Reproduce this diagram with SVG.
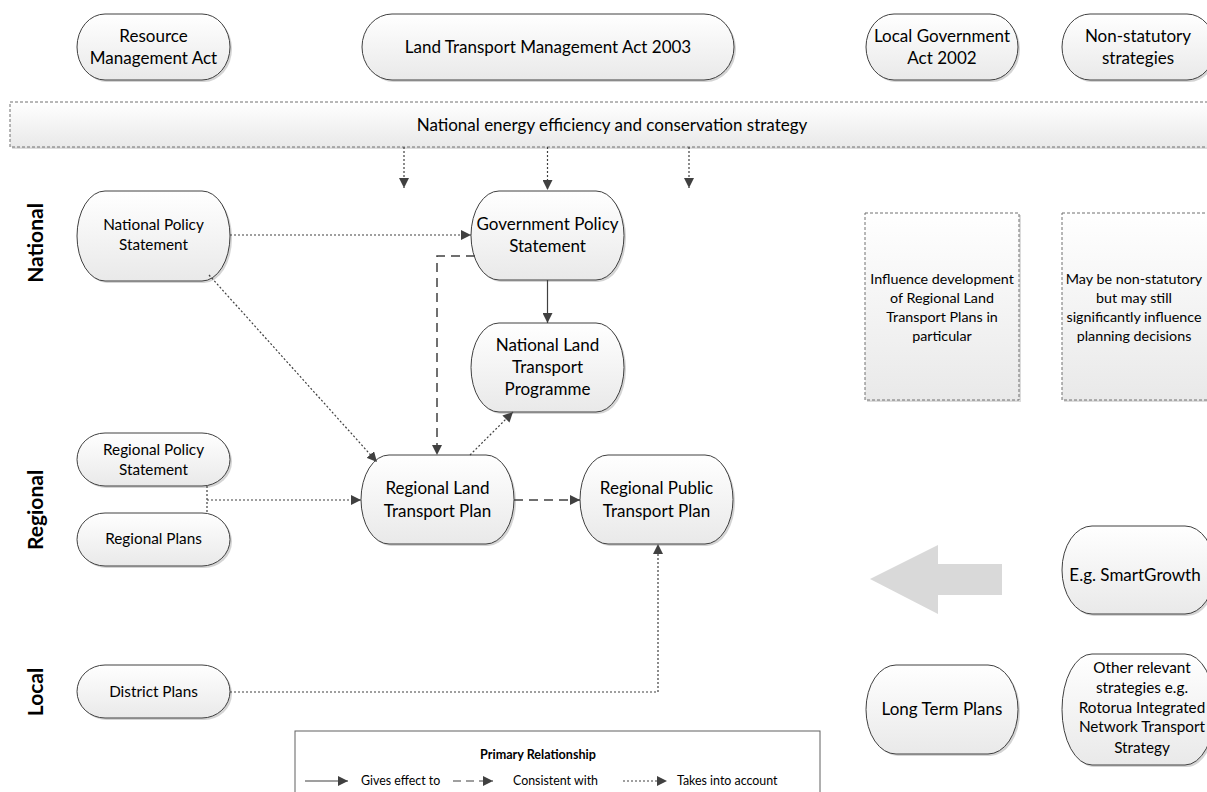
<svg xmlns="http://www.w3.org/2000/svg" width="1207" height="792" viewBox="0 0 1207 792">
<defs>
<linearGradient id="g" x1="0" y1="0" x2="0" y2="1"><stop offset="0" stop-color="#ffffff"/><stop offset="1" stop-color="#e9e9e9"/></linearGradient>
<marker id="ah" viewBox="0 0 10 10" refX="10" refY="5" markerWidth="10" markerHeight="10" markerUnits="userSpaceOnUse" orient="auto"><path d="M0,0 L10,5 L0,10 z" fill="#404040"/></marker>
<style>
text{font-family:Lato,"Liberation Sans",sans-serif;fill:#000;text-anchor:middle}
.n{fill:url(#g);stroke:#404040;stroke-width:1}
.sh{fill:#d4d4d4}
.t16{font-size:17px}
.t14{font-size:15.3px}
.tb{font-size:14.3px}
.side{font-size:21px;font-weight:bold}
.box{fill:url(#g);stroke:#707070;stroke-width:1;stroke-dasharray:3 2}
.c{fill:none;stroke:#404040;stroke-width:1.2}
.dot{stroke-dasharray:2 2}
.dash{stroke-dasharray:9 6;stroke-width:1.5}
.leg{font-size:12.4px;text-anchor:start}
</style>
</defs>
<rect width="1207" height="792" fill="#fff"/>

<g id="side-labels">
<text class="side" transform="translate(43,243) rotate(-90)">National</text>
<text class="side" transform="translate(43,510) rotate(-90)">Regional</text>
<text class="side" transform="translate(43,692) rotate(-90)">Local</text>
</g>

<g id="banner">
<rect x="12" y="104" width="1200" height="45" fill="#dcdcdc"/>
<rect class="box" x="10" y="102" width="1200" height="45"/>
<text class="t16" x="612" y="131">National energy efficiency and conservation strategy</text>
</g>

<g id="rma">
<rect class="sh" x="79" y="16" width="153" height="66" rx="28" ry="33"/>
<rect class="n" x="77" y="14" width="153" height="66" rx="28" ry="33"/>
<text class="t16" x="153.5" y="42">Resource</text>
<text class="t16" x="153.5" y="64">Management Act</text>
</g>
<g id="ltma">
<rect class="sh" x="364" y="16" width="372" height="66" rx="30" ry="33"/>
<rect class="n" x="362" y="14" width="372" height="66" rx="30" ry="33"/>
<text class="t16" x="548" y="53">Land Transport Management Act 2003</text>
</g>
<g id="lga">
<rect class="sh" x="868" y="16" width="152" height="66" rx="28" ry="33"/>
<rect class="n" x="866" y="14" width="152" height="66" rx="28" ry="33"/>
<text class="t16" x="942" y="42">Local Government</text>
<text class="t16" x="942" y="64">Act 2002</text>
</g>
<g id="nonstat">
<rect class="sh" x="1064" y="16" width="153" height="66" rx="28" ry="33"/>
<rect class="n" x="1062" y="14" width="153" height="66" rx="28" ry="33"/>
<text class="t16" x="1138" y="42">Non-statutory</text>
<text class="t16" x="1138" y="64">strategies</text>
</g>

<g id="nps">
<rect class="sh" x="79" y="193" width="153" height="90" rx="28" ry="45"/>
<rect class="n" x="77" y="191" width="153" height="90" rx="28" ry="45"/>
<text class="t14" x="153.5" y="230">National Policy</text>
<text class="t14" x="153.5" y="250">Statement</text>
</g>
<g id="gps">
<rect class="sh" x="473" y="193" width="153" height="89" rx="28" ry="44.5"/>
<rect class="n" x="471" y="191" width="153" height="89" rx="28" ry="44.5"/>
<text class="t16" x="547.5" y="230">Government Policy</text>
<text class="t16" x="547.5" y="252">Statement</text>
</g>
<g id="nltp">
<rect class="sh" x="473" y="325" width="153" height="89" rx="28" ry="44.5"/>
<rect class="n" x="471" y="323" width="153" height="89" rx="28" ry="44.5"/>
<text class="t16" x="547.5" y="351">National Land</text>
<text class="t16" x="547.5" y="373">Transport</text>
<text class="t16" x="547.5" y="395">Programme</text>
</g>
<g id="rps">
<rect class="sh" x="79" y="435" width="153" height="53" rx="28" ry="26.5"/>
<rect class="n" x="77" y="433" width="153" height="53" rx="28" ry="26.5"/>
<text class="t14" x="153.5" y="455">Regional Policy</text>
<text class="t14" x="153.5" y="475">Statement</text>
</g>
<g id="rp">
<rect class="sh" x="79" y="515" width="153" height="53" rx="28" ry="26.5"/>
<rect class="n" x="77" y="513" width="153" height="53" rx="28" ry="26.5"/>
<text class="t14" x="153.5" y="544">Regional Plans</text>
</g>
<g id="rltp">
<rect class="sh" x="363" y="457" width="153" height="89" rx="28" ry="44.5"/>
<rect class="n" x="361" y="455" width="153" height="89" rx="28" ry="44.5"/>
<text class="t16" x="437.5" y="494">Regional Land</text>
<text class="t16" x="437.5" y="517">Transport Plan</text>
</g>
<g id="rptp">
<rect class="sh" x="582" y="457" width="153" height="89" rx="28" ry="44.5"/>
<rect class="n" x="580" y="455" width="153" height="89" rx="28" ry="44.5"/>
<text class="t16" x="656.5" y="494">Regional Public</text>
<text class="t16" x="656.5" y="517">Transport Plan</text>
</g>
<g id="dp">
<rect class="sh" x="79" y="667" width="153" height="53" rx="28" ry="26.5"/>
<rect class="n" x="77" y="665" width="153" height="53" rx="28" ry="26.5"/>
<text class="t14" x="153.5" y="697">District Plans</text>
</g>

<g id="influence">
<rect x="867" y="215" width="154" height="187" fill="#dcdcdc"/>
<rect class="box" x="865" y="213" width="154" height="187"/>
<text class="tb" x="942" y="284">Influence development</text>
<text class="tb" x="942" y="303">of Regional Land</text>
<text class="tb" x="942" y="322">Transport Plans in</text>
<text class="tb" x="942" y="341">particular</text>
</g>
<g id="maybe">
<rect x="1064" y="215" width="154" height="187" fill="#dcdcdc"/>
<rect class="box" x="1062" y="213" width="154" height="187"/>
<text class="tb" x="1134" y="284">May be non-statutory</text>
<text class="tb" x="1134" y="303">but may still</text>
<text class="tb" x="1134" y="322">significantly influence</text>
<text class="tb" x="1134" y="341">planning decisions</text>
</g>

<g id="bigarrow">
<polygon points="870,579 938,545 938,564 1002,564 1002,595 938,595 938,614" fill="#d9d9d9"/>
</g>
<g id="smartgrowth">
<rect class="sh" x="1064" y="528" width="153" height="88" rx="30" ry="44"/>
<rect class="n" x="1062" y="526" width="153" height="88" rx="30" ry="44"/>
<text class="t16" x="1135" y="581">E.g. SmartGrowth</text>
</g>
<g id="ltp">
<rect class="sh" x="868" y="667" width="152" height="89" rx="30" ry="44.5"/>
<rect class="n" x="866" y="665" width="152" height="89" rx="30" ry="44.5"/>
<text class="t16" x="942" y="715">Long Term Plans</text>
</g>
<g id="other">
<rect class="sh" x="1064" y="656" width="153" height="111" rx="30" ry="55.5"/>
<rect class="n" x="1062" y="654" width="153" height="111" rx="30" ry="55.5"/>
<text class="t14" x="1142" y="673">Other relevant</text>
<text class="t14" x="1142" y="693">strategies e.g.</text>
<text class="t14" x="1142" y="713">Rotorua Integrated</text>
<text class="t14" x="1142" y="732">Network Transport</text>
<text class="t14" x="1142" y="753">Strategy</text>
</g>

<g id="connectors">
<line class="c dot" x1="404" y1="147" x2="404" y2="188" marker-end="url(#ah)"/>
<line class="c dot" x1="547.5" y1="147" x2="547.5" y2="190" marker-end="url(#ah)"/>
<line class="c dot" x1="689" y1="147" x2="689" y2="188" marker-end="url(#ah)"/>
<line class="c dot" x1="230" y1="235" x2="471" y2="235" marker-end="url(#ah)"/>
<line class="c" x1="547.5" y1="280" x2="547.5" y2="323" marker-end="url(#ah)"/>
<polyline class="c dash" points="475,256 437,256 437,455" marker-end="url(#ah)"/>
<line class="c dot" x1="209" y1="275" x2="377" y2="462" marker-end="url(#ah)"/>
<line class="c dot" x1="470" y1="455" x2="513" y2="412" marker-end="url(#ah)"/>
<line class="c dot" x1="207" y1="486" x2="207" y2="513"/>
<line class="c dot" x1="207" y1="500" x2="361" y2="500" marker-end="url(#ah)"/>
<line class="c dash" x1="514" y1="500" x2="580" y2="500" marker-end="url(#ah)"/>
<polyline class="c dot" points="230,692 658,692 658,544" marker-end="url(#ah)"/>
</g>

<g id="legend">
<rect x="295" y="731" width="525" height="70" fill="#fff" stroke="#606060" stroke-width="1"/>
<text x="538" y="759" font-size="12.6px" font-weight="bold">Primary Relationship</text>
<line class="c" x1="305" y1="781" x2="348" y2="781" marker-end="url(#ah)"/>
<text class="leg" x="361" y="785">Gives effect to</text>
<line class="c" x1="453" y1="781" x2="493" y2="781" marker-end="url(#ah)" style="stroke-dasharray:8 5"/>
<text class="leg" x="513" y="785">Consistent with</text>
<line class="c dot" x1="623" y1="781" x2="667" y2="781" marker-end="url(#ah)"/>
<text class="leg" x="677" y="785">Takes into account</text>
</g>
</svg>
